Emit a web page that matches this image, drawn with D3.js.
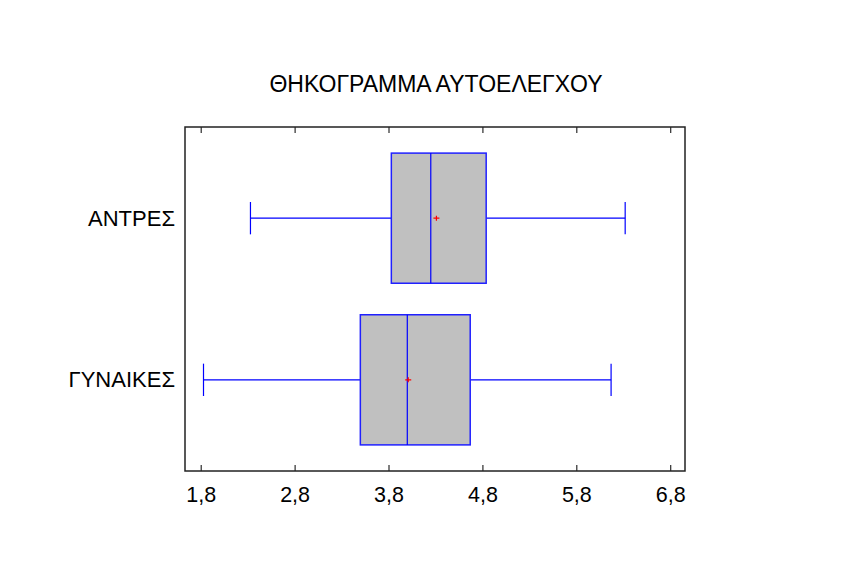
<!DOCTYPE html>
<html>
<head>
<meta charset="utf-8">
<script src="https://cdn.jsdelivr.net/npm/d3@7"></script>
<style>
  body { margin: 0; background: #fff; }
  text { font-family: Arial, "Liberation Sans", sans-serif; fill: #000; }
</style>
</head>
<body>
<div id="chart"></div>
<script>
const categories = ['ΑΝΤΡΕΣ', 'ΓΥΝΑΙΚΕΣ'];
const mins    = [2.33, 1.83];
const q1s     = [3.83, 3.50];
const medians = [4.25, 4.00];
const q3s     = [4.84, 4.67];
const maxs    = [6.32, 6.17];
const means   = [4.31, 4.01];
const tickValues = [1.8, 2.8, 3.8, 4.8, 5.8, 6.8];
const title = 'ΘΗΚΟΓΡΑΜΜΑ ΑΥΤΟΕΛΕΓΧΟΥ';

const width = 846, height = 587;
const margin = { top: 127, right: 161, bottom: 116, left: 185 };
const w = width - margin.left - margin.right;
const h = height - margin.top - margin.bottom;

const svg = d3.select('#chart').append('svg')
  .attr('width', width)
  .attr('height', height);

const plot = svg.append('g')
  .attr('transform', `translate(${margin.left},${margin.top})`);

const x = d3.scaleLinear()
  .domain([1.633, 6.957])
  .range([0, w]);

const y = d3.scalePoint()
  .domain(categories)
  .range([0, h])
  .padding(0.564);

const step = y.step();
const boxH = step * 0.805;
const capH = step * 0.2;

const fmt = d => d3.format('.1f')(d).replace('.', ',');

// axes, ticks pointing inwards
const xAxis = plot.append('g')
  .attr('transform', `translate(0,${h})`)
  .call(d3.axisBottom(x).tickValues(tickValues).tickSize(-6).tickPadding(16).tickFormat(fmt));
xAxis.select('.domain').remove();
xAxis.selectAll('line').attr('stroke', '#000');
xAxis.selectAll('text').style('font-size', '21.5px').attr('font-family', null);

const xTop = plot.append('g')
  .call(d3.axisTop(x).tickValues(tickValues).tickSize(-6).tickFormat(''));
xTop.select('.domain').remove();
xTop.selectAll('line').attr('stroke', '#000');

const yAxis = plot.append('g')
  .call(d3.axisLeft(y).tickSize(0).tickPadding(10));
yAxis.select('.domain').remove();
yAxis.selectAll('text').style('font-size', '22px').attr('font-family', null);

plot.append('rect')
  .attr('width', w)
  .attr('height', h)
  .attr('fill', 'none')
  .attr('stroke', '#222')
  .attr('stroke-width', 1.5);

const data = categories.map((c, i) => ({
  cat: c, min: mins[i], q1: q1s[i], med: medians[i], q3: q3s[i], max: maxs[i], mean: means[i]
}));

const g = plot.selectAll('.box')
  .data(data)
  .enter().append('g')
  .attr('class', 'box');

// whiskers
g.append('line')
  .attr('x1', d => x(d.min)).attr('x2', d => x(d.q1))
  .attr('y1', d => y(d.cat)).attr('y2', d => y(d.cat))
  .attr('stroke', '#0000ff').attr('stroke-width', 1.2);
g.append('line')
  .attr('x1', d => x(d.q3)).attr('x2', d => x(d.max))
  .attr('y1', d => y(d.cat)).attr('y2', d => y(d.cat))
  .attr('stroke', '#0000ff').attr('stroke-width', 1.2);
g.append('line')
  .attr('x1', d => x(d.min)).attr('x2', d => x(d.min))
  .attr('y1', d => y(d.cat) - capH / 2).attr('y2', d => y(d.cat) + capH / 2)
  .attr('stroke', '#0000ff').attr('stroke-width', 1.2);
g.append('line')
  .attr('x1', d => x(d.max)).attr('x2', d => x(d.max))
  .attr('y1', d => y(d.cat) - capH / 2).attr('y2', d => y(d.cat) + capH / 2)
  .attr('stroke', '#0000ff').attr('stroke-width', 1.2);

// box
g.append('rect')
  .attr('x', d => x(d.q1))
  .attr('width', d => x(d.q3) - x(d.q1))
  .attr('y', d => y(d.cat) - boxH / 2)
  .attr('height', boxH)
  .attr('fill', '#c0c0c0')
  .attr('stroke', '#2020ff')
  .attr('stroke-width', 1.5);

// median
g.append('line')
  .attr('x1', d => x(d.med)).attr('x2', d => x(d.med))
  .attr('y1', d => y(d.cat) - boxH / 2).attr('y2', d => y(d.cat) + boxH / 2)
  .attr('stroke', '#0000ff').attr('stroke-width', 1.2);

// mean marker
g.append('path')
  .attr('d', d => `M${x(d.mean) - 3},${y(d.cat)}h6M${x(d.mean)},${y(d.cat) - 2.5}v5`)
  .attr('stroke', '#ff0000')
  .attr('stroke-width', 1.2)
  .attr('fill', 'none');

svg.append('text')
  .attr('x', 436)
  .attr('y', 92)
  .attr('text-anchor', 'middle')
  .style('font-size', '23px')
  .text(title);
</script>
</body>
</html>
